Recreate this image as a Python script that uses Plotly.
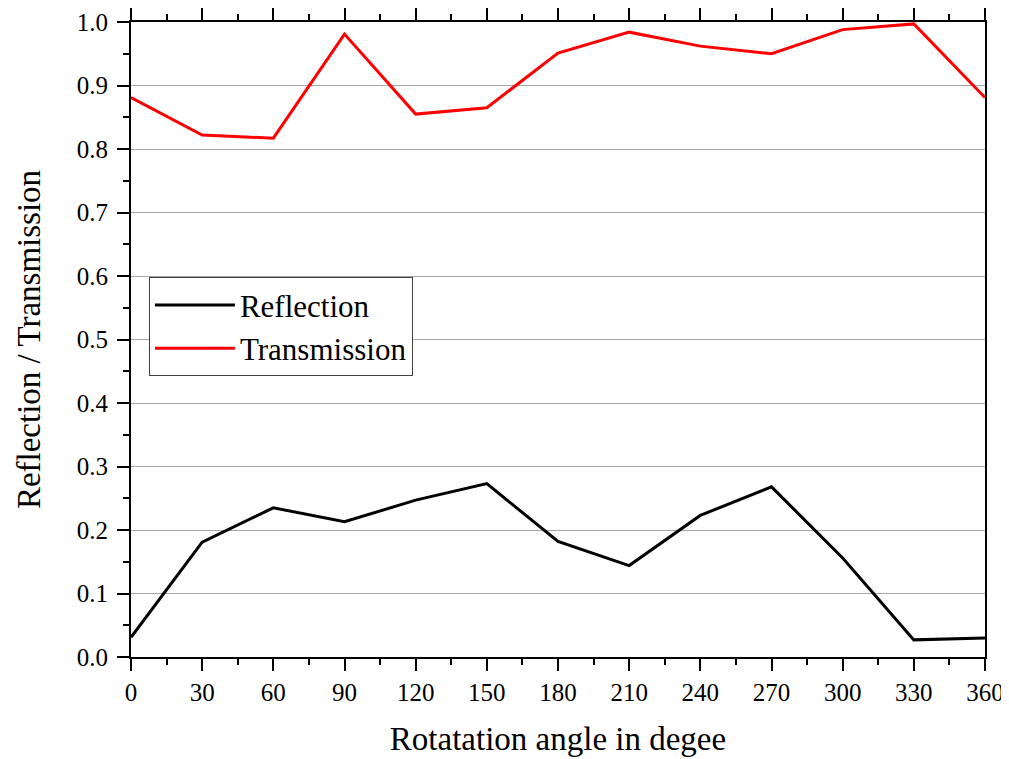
import plotly.graph_objects as go

angles = [0, 30, 60, 90, 120, 150, 180, 210, 240, 270, 300, 330, 360]
reflection = [0.031, 0.181, 0.235, 0.213, 0.247, 0.273, 0.182, 0.144, 0.223, 0.268, 0.156, 0.027, 0.030]
transmission = [0.881, 0.822, 0.817, 0.981, 0.855, 0.865, 0.951, 0.984, 0.962, 0.950, 0.988, 0.997, 0.881]

x_ticks = list(range(0, 361, 30))
y_ticks = [round(i * 0.1, 1) for i in range(11)]

FONT = "Liberation Serif, Times New Roman, serif"

fig = go.Figure()
fig.add_trace(go.Scatter(x=angles, y=reflection, mode="lines", name="Reflection",
                         line=dict(color="black", width=3)))
fig.add_trace(go.Scatter(x=angles, y=transmission, mode="lines", name="Transmission",
                         line=dict(color="#ff0000", width=3)))

axis_common = dict(
    showline=True, linecolor="black", linewidth=2,
    ticks="outside", ticklen=12, tickwidth=2, tickcolor="black",
    tickfont=dict(family=FONT, size=25, color="black"),
    zeroline=False, automargin=False,
)

fig.update_xaxes(
    **axis_common,
    range=[0, 360], tickmode="array", tickvals=x_ticks,
    ticktext=[str(v) for v in x_ticks],
    mirror="ticks", showgrid=False,
    minor=dict(ticks="outside", ticklen=6, tickwidth=2, tickcolor="black", dtick=15, showgrid=False),
    title=dict(text="Rotatation angle in degee", font=dict(family=FONT, size=33, color="black"), standoff=22),
)
fig.update_yaxes(
    **axis_common,
    range=[0, 1.0], tickmode="array", tickvals=y_ticks,
    ticktext=[f"{v:.1f}" for v in y_ticks],
    mirror=True, showgrid=True, gridcolor="#a6a6a6", gridwidth=1,
    ticklabelstandoff=4,
    minor=dict(ticks="outside", ticklen=6, tickwidth=2, tickcolor="black", dtick=0.05, showgrid=False),
    title=dict(text="Reflection / Transmission", font=dict(family=FONT, size=33, color="black"), standoff=26),
)

fig.update_layout(
    width=1001, height=751,
    margin=dict(l=123, r=24, t=14, b=102),
    paper_bgcolor="white", plot_bgcolor="white",
    showlegend=True,
    legend=dict(
        x=0.021, y=0.598, xanchor="left", yanchor="top",
        bgcolor="white", bordercolor="#404040", borderwidth=1,
        font=dict(family=FONT, size=31, color="black"),
        itemwidth=80, tracegroupgap=0,
    ),
)

fig.write_html("out.html")
